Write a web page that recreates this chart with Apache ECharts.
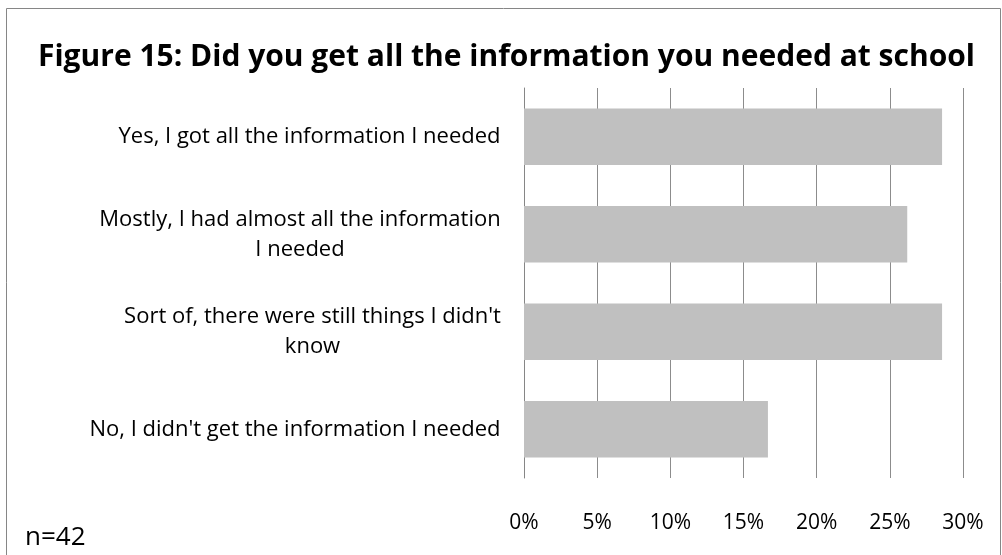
<!DOCTYPE html>
<html>
<head>
<meta charset="utf-8">
<script src="https://cdn.jsdelivr.net/npm/echarts@6/dist/echarts.min.js"></script>
<style>
  html, body { margin: 0; padding: 0; background: #ffffff; }
  #chart { width: 1002px; height: 555px; }
</style>
</head>
<body>
<div id="chart"></div>
<script>
// Survey answers (n = 42), shown as percentage of respondents
const categories = [
  "Yes, I got all the information I needed",
  "Mostly, I had almost all the information I needed",
  "Sort of, there were still things I didn't know",
  "No, I didn't get the information I needed"
];
// How each answer label is split over lines on the axis
const categoryLines = [
  ["Yes, I got all the information I needed"],
  ["Mostly, I had almost all the information", "I needed"],
  ["Sort of, there were still things I didn't", "know"],
  ["No, I didn't get the information I needed"]
];
const percentValues = [28.57, 26.19, 28.57, 16.67];
const xTicks = { min: 0, max: 30, step: 5 };
const titleText = "Figure 15: Did you get all the information you needed at school";
const sampleNote = "n=42";

const FONT = "Open Sans";
const LABEL_SIZE = 22;

// Lines of a wrapped label are centred inside a block whose right edge
// sits next to the axis; the block is as wide as its longest line.
const measureCtx = document.createElement("canvas").getContext("2d");
measureCtx.font = LABEL_SIZE + "px '" + FONT + "'";
const richStyles = {};
categoryLines.forEach((lines, i) => {
  const w = Math.ceil(Math.max(...lines.map(l => measureCtx.measureText(l).width)));
  richStyles["c" + i] = {
    width: w,
    align: "center",
    fontFamily: FONT,
    fontSize: LABEL_SIZE,
    color: "#000000",
    lineHeight: 30
  };
});

const chart = echarts.init(document.getElementById("chart"), null, { renderer: "canvas" });

chart.setOption({
  animation: false,
  backgroundColor: "#ffffff",
  title: {
    text: titleText,
    left: 33,
    top: 37,
    textStyle: { fontFamily: FONT, fontWeight: "bold", fontSize: 30, color: "#000000" }
  },
  graphic: [
    {
      type: "rect",
      shape: { x: 6.5, y: 8.5, width: 994, height: 560 },
      style: { fill: "none", stroke: "#868686", lineWidth: 1 },
      silent: true
    },
    {
      type: "text",
      left: 25,
      top: 525,
      style: { text: sampleNote, font: "26px '" + FONT + "'", fill: "#000000" }
    }
  ],
  grid: { left: 524, right: 39, top: 88, bottom: 77 },
  xAxis: {
    type: "value",
    min: xTicks.min,
    max: xTicks.max,
    interval: xTicks.step,
    axisLine: { show: false },
    axisTick: { show: false },
    splitLine: { show: true, lineStyle: { color: "#8c8c8c", width: 1 } },
    axisLabel: {
      margin: 35,
      fontFamily: FONT,
      fontSize: 21,
      color: "#000000",
      formatter: v => v + "%"
    }
  },
  yAxis: {
    type: "category",
    inverse: true,
    data: categories,
    axisLine: { show: true, lineStyle: { color: "#868686", width: 1 } },
    axisTick: { show: false },
    axisLabel: {
      margin: 23,
      align: "right",
      formatter: value => {
        const i = categories.indexOf(value);
        return categoryLines[i].map(l => "{c" + i + "|" + l + "}").join("\n");
      },
      rich: richStyles
    }
  },
  series: [
    {
      type: "bar",
      data: percentValues,
      barWidth: "58%",
      itemStyle: { color: "#c0c0c0" },
      label: { show: false }
    }
  ]
});
</script>
</body>
</html>
